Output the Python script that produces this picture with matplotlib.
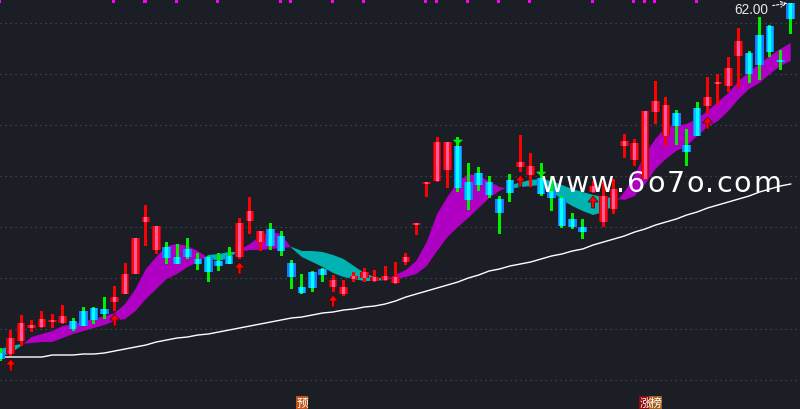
import matplotlib
matplotlib.use('Agg')
import matplotlib.pyplot as plt
from matplotlib.patches import Rectangle, Polygon
import numpy as np

opens = [27.0, 26.9, 28.2, 29.5, 29.6, 30.2, 30.0, 30.2, 31.2, 31.5,
         31.4, 32.1, 32.9, 34.9, 40.1, 37.3, 37.6, 36.6, 37.4, 36.4,
         36.6, 36.2, 36.7, 36.6, 40.2, 38.1, 39.4, 38.7, 36.0, 33.6,
         35.1, 35.4, 33.6, 32.9, 34.4, 34.5, 34.2, 34.3, 34.0, 36.1,
         39.8, 44.0, 44.2, 45.3, 47.7, 44.1, 45.0, 44.1, 42.4, 44.3,
         45.6, 44.8, 44.5, 43.2, 42.5, 40.4, 39.6, 43.1, 40.1, 41.4,
         47.7, 46.3, 44.4, 51.1, 48.7, 51.0, 47.8, 51.5, 51.7, 53.9,
         53.7, 56.7, 57.0, 58.8, 59.7, 56.3, 62.0]
highs = [27.5, 29.3, 30.8, 30.3, 31.2, 30.9, 31.8, 30.5, 31.6, 31.6,
         32.6, 33.7, 36.0, 38.5, 41.8, 39.7, 38.1, 37.9, 38.5, 37.0,
         36.7, 37.0, 37.6, 40.5, 42.6, 39.2, 40.0, 39.2, 36.3, 34.9,
         35.2, 35.5, 34.8, 34.3, 35.1, 35.5, 35.3, 35.7, 36.1, 37.0,
         40.0, 44.1, 48.6, 48.1, 48.6, 46.0, 45.6, 44.7, 42.7, 44.9,
         48.8, 47.0, 46.0, 44.7, 42.7, 41.0, 40.4, 44.2, 44.1, 44.4,
         48.9, 48.4, 51.2, 54.2, 52.6, 51.3, 49.4, 52.1, 54.6, 54.9,
         56.6, 59.5, 57.2, 60.6, 59.8, 57.3, 62.0]
lows = [26.2, 26.7, 27.7, 29.1, 29.5, 29.5, 29.9, 29.2, 29.7, 29.9,
        30.4, 31.2, 32.9, 34.9, 37.7, 36.9, 35.9, 35.9, 36.4, 35.3,
        34.1, 35.2, 35.9, 36.4, 38.9, 37.2, 37.3, 36.7, 33.4, 32.9,
        33.1, 34.1, 33.1, 32.7, 34.1, 34.1, 34.1, 34.2, 33.9, 35.8,
        38.8, 42.6, 44.1, 43.5, 43.1, 41.3, 43.2, 42.5, 38.9, 42.1,
        45.1, 43.6, 42.7, 41.2, 39.5, 39.4, 38.4, 43.0, 39.6, 40.9,
        46.5, 45.7, 44.4, 49.9, 47.7, 47.8, 45.7, 48.7, 50.9, 51.8,
        53.1, 53.5, 54.0, 54.3, 56.6, 55.3, 58.9]
closes = [26.4, 28.5, 30.0, 29.8, 30.4, 30.3, 30.7, 29.4, 29.7, 30.3,
          30.9, 32.6, 34.9, 38.5, 40.6, 39.7, 36.5, 35.9, 36.6, 35.9,
          35.1, 35.7, 35.9, 40.0, 41.2, 39.2, 37.7, 37.2, 34.6, 33.0,
          33.5, 34.8, 34.3, 33.6, 34.7, 35.1, 34.6, 34.7, 34.6, 36.6,
          40.0, 44.1, 48.1, 48.1, 43.5, 42.3, 43.8, 42.8, 41.0, 43.0,
          46.1, 45.7, 42.9, 42.5, 39.7, 39.6, 39.1, 43.7, 42.7, 43.4,
          48.2, 48.0, 51.2, 52.2, 51.8, 49.7, 47.1, 48.7, 52.6, 54.1,
          55.5, 58.2, 54.9, 55.8, 57.1, 56.1, 60.4]

ema_fast = [26.6, 27.0, 27.7, 28.6, 28.9, 29.2, 29.7, 29.9, 30.2, 30.4,
            30.7, 31.0, 31.9, 33.4, 35.4, 36.6, 37.7, 37.9, 37.7, 37.2,
            36.5, 36.2, 36.5, 37.3, 37.9, 38.7, 39.1, 38.9, 37.5, 36.6,
            36.1, 35.6, 35.0, 34.6, 34.4, 34.2, 34.2, 34.3, 34.8, 35.3,
            36.2, 38.1, 40.9, 42.6, 44.1, 44.9, 44.7, 44.2, 43.6, 43.4,
            43.6, 43.7, 43.8, 43.2, 42.3, 41.7, 41.2, 40.8, 41.1, 41.8,
            43.1, 44.8, 46.9, 48.4, 49.6, 49.7, 49.9, 50.4, 51.2, 52.1,
            53.0, 54.2, 55.1, 55.9, 56.7, 57.4, 58.0]
ema_slow = [27.4, 27.7, 27.9, 28.0, 28.1, 28.1, 28.5, 28.9, 29.2, 29.5,
            29.8, 30.2, 30.4, 31.2, 32.4, 33.4, 34.4, 34.9, 35.6, 36.1,
            36.8, 36.9, 37.1, 37.1, 37.3, 37.3, 37.4, 37.5, 37.6, 37.2,
            37.2, 37.1, 36.8, 36.4, 35.7, 35.0, 34.6, 34.4, 34.4, 34.6,
            34.9, 35.7, 37.2, 38.6, 39.6, 40.5, 41.5, 42.5, 43.2, 43.7,
            44.1, 44.3, 44.4, 44.2, 43.8, 43.4, 43.1, 42.8, 42.6, 42.5,
            42.3, 42.7, 43.9, 45.4, 46.4, 47.2, 47.7, 48.7, 49.6, 50.2,
            51.2, 52.4, 53.4, 54.0, 54.9, 55.7, 56.2]
ma_long = [26.6, 26.6, 26.6, 26.6, 26.6, 26.8, 26.8, 26.8, 26.9, 26.9,
           27.0, 27.2, 27.4, 27.6, 27.8, 28.1, 28.3, 28.5, 28.6, 28.8,
           28.9, 29.1, 29.3, 29.5, 29.7, 29.9, 30.1, 30.3, 30.5, 30.6,
           30.8, 31.0, 31.1, 31.3, 31.4, 31.6, 31.7, 31.9, 32.2, 32.6,
           32.9, 33.2, 33.5, 33.8, 34.1, 34.5, 34.8, 35.2, 35.4, 35.7,
           35.9, 36.1, 36.4, 36.7, 36.9, 37.2, 37.4, 37.8, 38.1, 38.4,
           38.7, 39.1, 39.4, 39.8, 40.1, 40.4, 40.8, 41.1, 41.5, 41.8,
           42.1, 42.4, 42.7, 43.1, 43.4, 43.7, 43.9]

buy_signals = [1, 11, 23, 32, 50, 57, 68]
sell_signals = [44, 52]
top_marks = [0, 11, 14, 17, 21, 27, 28, 32, 35, 41, 42, 45, 48, 51, 57, 61, 62, 63, 67]
grid_levels = [60.0, 54.9, 49.8, 44.7, 39.6, 34.5, 29.4, 24.3]
tag_index = [29, 62, 63]
tag_text = ['预', '涨', '榜']
watermark = 'www.6o7o.com'

BG = '#1c1e26'
n = len(opens)
idx = np.arange(n)
o = np.array(opens); h = np.array(highs); l = np.array(lows); c = np.array(closes)
f = np.array(ema_fast); s = np.array(ema_slow)

fig = plt.figure(figsize=(8, 4.1), dpi=100)
fig.patch.set_facecolor(BG)
ax = fig.add_axes([0, 0, 1, 1])
ax.set_facecolor(BG)
px = 800 / 10.4
ax.set_xlim(-0.03, -0.03 + px)
ax.set_ylim(21.4, 62.4)
ax.axis('off')
PX = 1 / 10.4   # one pixel in x data units
PY = 0.1        # one pixel in y data units

for g in grid_levels:
    ax.axhline(g, color='#4a4d56', lw=0.9, linestyle=(0, (1, 3)), zorder=1)

ax.fill_between(idx, f, s, where=f >= s, interpolate=True, color='#b000c4', lw=0, zorder=2)
ax.fill_between(idx, f, s, where=f <= s, interpolate=True, color='#00b2b2', lw=0, zorder=2)
ax.plot(idx, ma_long, color='white', lw=1.0, zorder=3)

bw = 0.82
for i in range(n):
    up = c[i] >= o[i]
    wick_col = '#ff0000' if up else '#00ee00'
    ax.add_patch(Rectangle((i - 1.5 * PX, l[i]), 3 * PX, h[i] - l[i], color=wick_col, lw=0, zorder=4))
    lo_b = min(o[i], c[i]); hi_b = max(o[i], c[i])
    hgt = max(hi_b - lo_b, 2 * PY)
    if abs(hi_b - lo_b) < 2 * PY:
        lo_b = (o[i] + c[i]) / 2 - PY
    if up:
        cols = [(1.0, '#c00010'), (0.75, '#ff0a0a'), (0.36, '#ff5aa0')]
    else:
        cols = [(1.0, '#1a78ff'), (0.7, '#00bfff'), (0.36, '#00ffff')]
    for frac, col in cols:
        w = bw * frac
        ax.add_patch(Rectangle((i - w / 2, lo_b), w, hgt, color=col, lw=0, zorder=5))

for i in buy_signals:
    top = l[i] - 3 * PY
    hw = 5 * PX; sw = 1.5 * PX
    pts = [(i, top), (i + hw, top - 6 * PY), (i + sw, top - 6 * PY), (i + sw, top - 12 * PY),
           (i - sw, top - 12 * PY), (i - sw, top - 6 * PY), (i - hw, top - 6 * PY)]
    ax.add_patch(Polygon(pts, closed=True, facecolor='#ff0000', edgecolor='#400000', lw=0.5, zorder=6))

for i in sell_signals:
    base = o[i] + 2 * PY
    hw = 4.5 * PX
    pts = [(i, base), (i + hw, base + 4 * PY), (i - hw, base + 4 * PY)]
    ax.add_patch(Polygon(pts, closed=True, facecolor='#00ee00', edgecolor='#00ee00', lw=0.5, zorder=6))

for i in top_marks:
    ax.add_patch(Rectangle((i - 0.1 - 1.5 * PX, 62.4 - 3.5 * PY), 3.2 * PX, 4 * PY, color='#ff00ff', lw=0, zorder=6))

# price label of the last high
ax.annotate(f'{h[-1]:.2f}', xy=(n - 1 - 0.2, h[-1]), xytext=(-37, -6), textcoords='offset pixels',
            ha='center', va='center', color='#e8e8e8', fontsize=9.8, family='Liberation Sans',
            arrowprops=dict(arrowstyle='->', color='white', lw=0.8, linestyle=(0, (2, 1.5)),
                            shrinkA=1, shrinkB=1), zorder=8)

# bottom tags
tag_cols = ['#c0541c', '#8e0a0a', '#a2601c']
for i, t, col in zip(tag_index, tag_text, tag_cols):
    ax.add_patch(Rectangle((i - 0.6, 21.4), 1.2, 1.35, color=col, lw=0, zorder=6))
    ax.text(i, 22.05, t, ha='center', va='center', color='white', fontsize=8.5,
            family=['Noto Sans CJK SC', 'DejaVu Sans'], zorder=7)

# watermark with wide letter spacing
renderer = fig.canvas.get_renderer()
wm_size = 20.5
widths = []
for ch in watermark:
    t = fig.text(0, 0, ch, fontsize=wm_size, family='DejaVu Sans')
    widths.append(t.get_window_extent(renderer).width)
    t.remove()
x0, x1 = 541.0, 781.0
extra = (x1 - x0 - sum(widths)) / (len(watermark) - 1)
xcur = x0
ycen = 1 - 184 / 410
for ch, w in zip(watermark, widths):
    fig.text(xcur / 800, ycen, ch, ha='left', va='center', color='white',
             fontsize=wm_size, family='DejaVu Sans', zorder=10)
    xcur += w + extra

fig.savefig('out.png', dpi=100, facecolor=BG)
